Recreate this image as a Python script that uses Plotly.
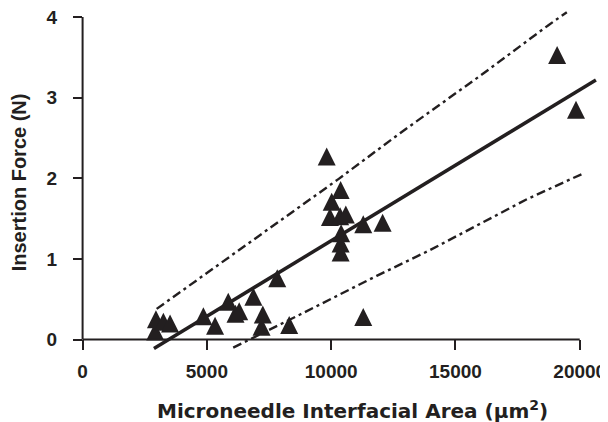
import plotly.graph_objects as go

# ---- data ----
area = [2920, 2950, 3250, 3520, 4860, 5330, 5860, 6150, 6300, 6870, 7200, 7250,
        7830, 8310, 9820, 9950, 10020, 10360, 10380, 10380, 10380, 10400, 10590,
        11290, 11290, 12070, 19090, 19850]
force = [0.10, 0.25, 0.22, 0.20, 0.29, 0.17, 0.47, 0.32, 0.35, 0.53, 0.16, 0.31,
         0.76, 0.18, 2.27, 1.52, 1.71, 1.53, 1.855, 1.19, 1.08, 1.32, 1.55,
         1.43, 0.28, 1.45, 3.53, 2.85]

fit_x = [2870, 20650]
fit_y = [-0.11, 3.22]

upper_x = [2980, 4120, 9150, 10290, 12770, 16120, 18740, 19480]
upper_y = [0.38, 0.63, 1.73, 1.99, 2.56, 3.30, 3.90, 4.06]

lower_x = [6060, 8750, 11830, 13980, 17870, 20210]
lower_y = [-0.10, 0.31, 0.79, 1.11, 1.74, 2.07]

x_ticks = [0, 5000, 10000, 15000, 20000]
y_ticks = [0, 1, 2, 3, 4]

x_title = "Microneedle Interfacial Area (μm<sup>2</sup>)"
y_title = "Insertion Force (N)"

INK = "#231f20"
FONT = "Liberation Sans, Arial, sans-serif"
WIDE = "DejaVu Sans, Liberation Sans, sans-serif"
MSIZE = 18
DASH = "9px,4px,3px,4px"

fig = go.Figure()
fig.add_trace(go.Scatter(x=upper_x, y=upper_y, mode="lines",
                         line=dict(color=INK, width=2.4, dash=DASH),
                         hoverinfo="skip"))
fig.add_trace(go.Scatter(x=lower_x, y=lower_y, mode="lines",
                         line=dict(color=INK, width=2.4, dash=DASH),
                         hoverinfo="skip"))
fig.add_trace(go.Scatter(x=fit_x, y=fit_y, mode="lines",
                         line=dict(color=INK, width=3.5), hoverinfo="skip"))
fig.add_trace(go.Scatter(x=area, y=force, mode="markers",
                         marker=dict(symbol="arrow-down", angle=180, standoff=MSIZE / 2,
                                     size=MSIZE, color=INK, line=dict(width=0))))

# axis lines drawn at the data origin
fig.add_shape(type="line", xref="x", yref="y", x0=x_ticks[0], x1=x_ticks[-1],
              y0=y_ticks[0], y1=y_ticks[0], line=dict(color=INK, width=2))
fig.add_shape(type="line", xref="x", yref="y", x0=x_ticks[0], x1=x_ticks[0],
              y0=y_ticks[0], y1=y_ticks[-1], line=dict(color=INK, width=2))

fig.update_layout(
    width=600, height=414,
    margin=dict(l=65, r=8, t=0, b=72),
    paper_bgcolor="white", plot_bgcolor="white",
    showlegend=False,
    font=dict(family=FONT, color=INK),
    xaxis=dict(range=[-386, 20815], showline=False, showgrid=False, zeroline=False,
               tickmode="array", tickvals=x_ticks, ticktext=[str(v) for v in x_ticks],
               ticks="inside", ticklen=10, tickwidth=2, tickcolor=INK,
               ticklabelstandoff=8, ticklabeloverflow="allow",
               tickfont=dict(family=FONT, size=19, color=INK, weight="bold")),
    yaxis=dict(range=[-0.130, 4.113], showline=False, showgrid=False, zeroline=False,
               tickmode="array", tickvals=y_ticks, ticktext=[str(v) for v in y_ticks],
               ticks="inside", ticklen=9, tickwidth=2, tickcolor=INK,
               ticklabelstandoff=15, ticklabeloverflow="allow",
               tickfont=dict(family=FONT, size=19, color=INK, weight="bold")),
    annotations=[
        dict(text=f"<b>{x_title}</b>", xref="paper", yref="paper",
             x=0.53, y=-0.176, xanchor="center", yanchor="middle", showarrow=False,
             font=dict(family=WIDE, size=20, color=INK)),
        dict(text=f"<b>{y_title}</b>", xref="paper", yref="y",
             x=-0.1025, y=1.95, xanchor="center", yanchor="middle", textangle=-90,
             showarrow=False, font=dict(family=FONT, size=20, color=INK)),
    ],
)

fig.write_html("out.html")
